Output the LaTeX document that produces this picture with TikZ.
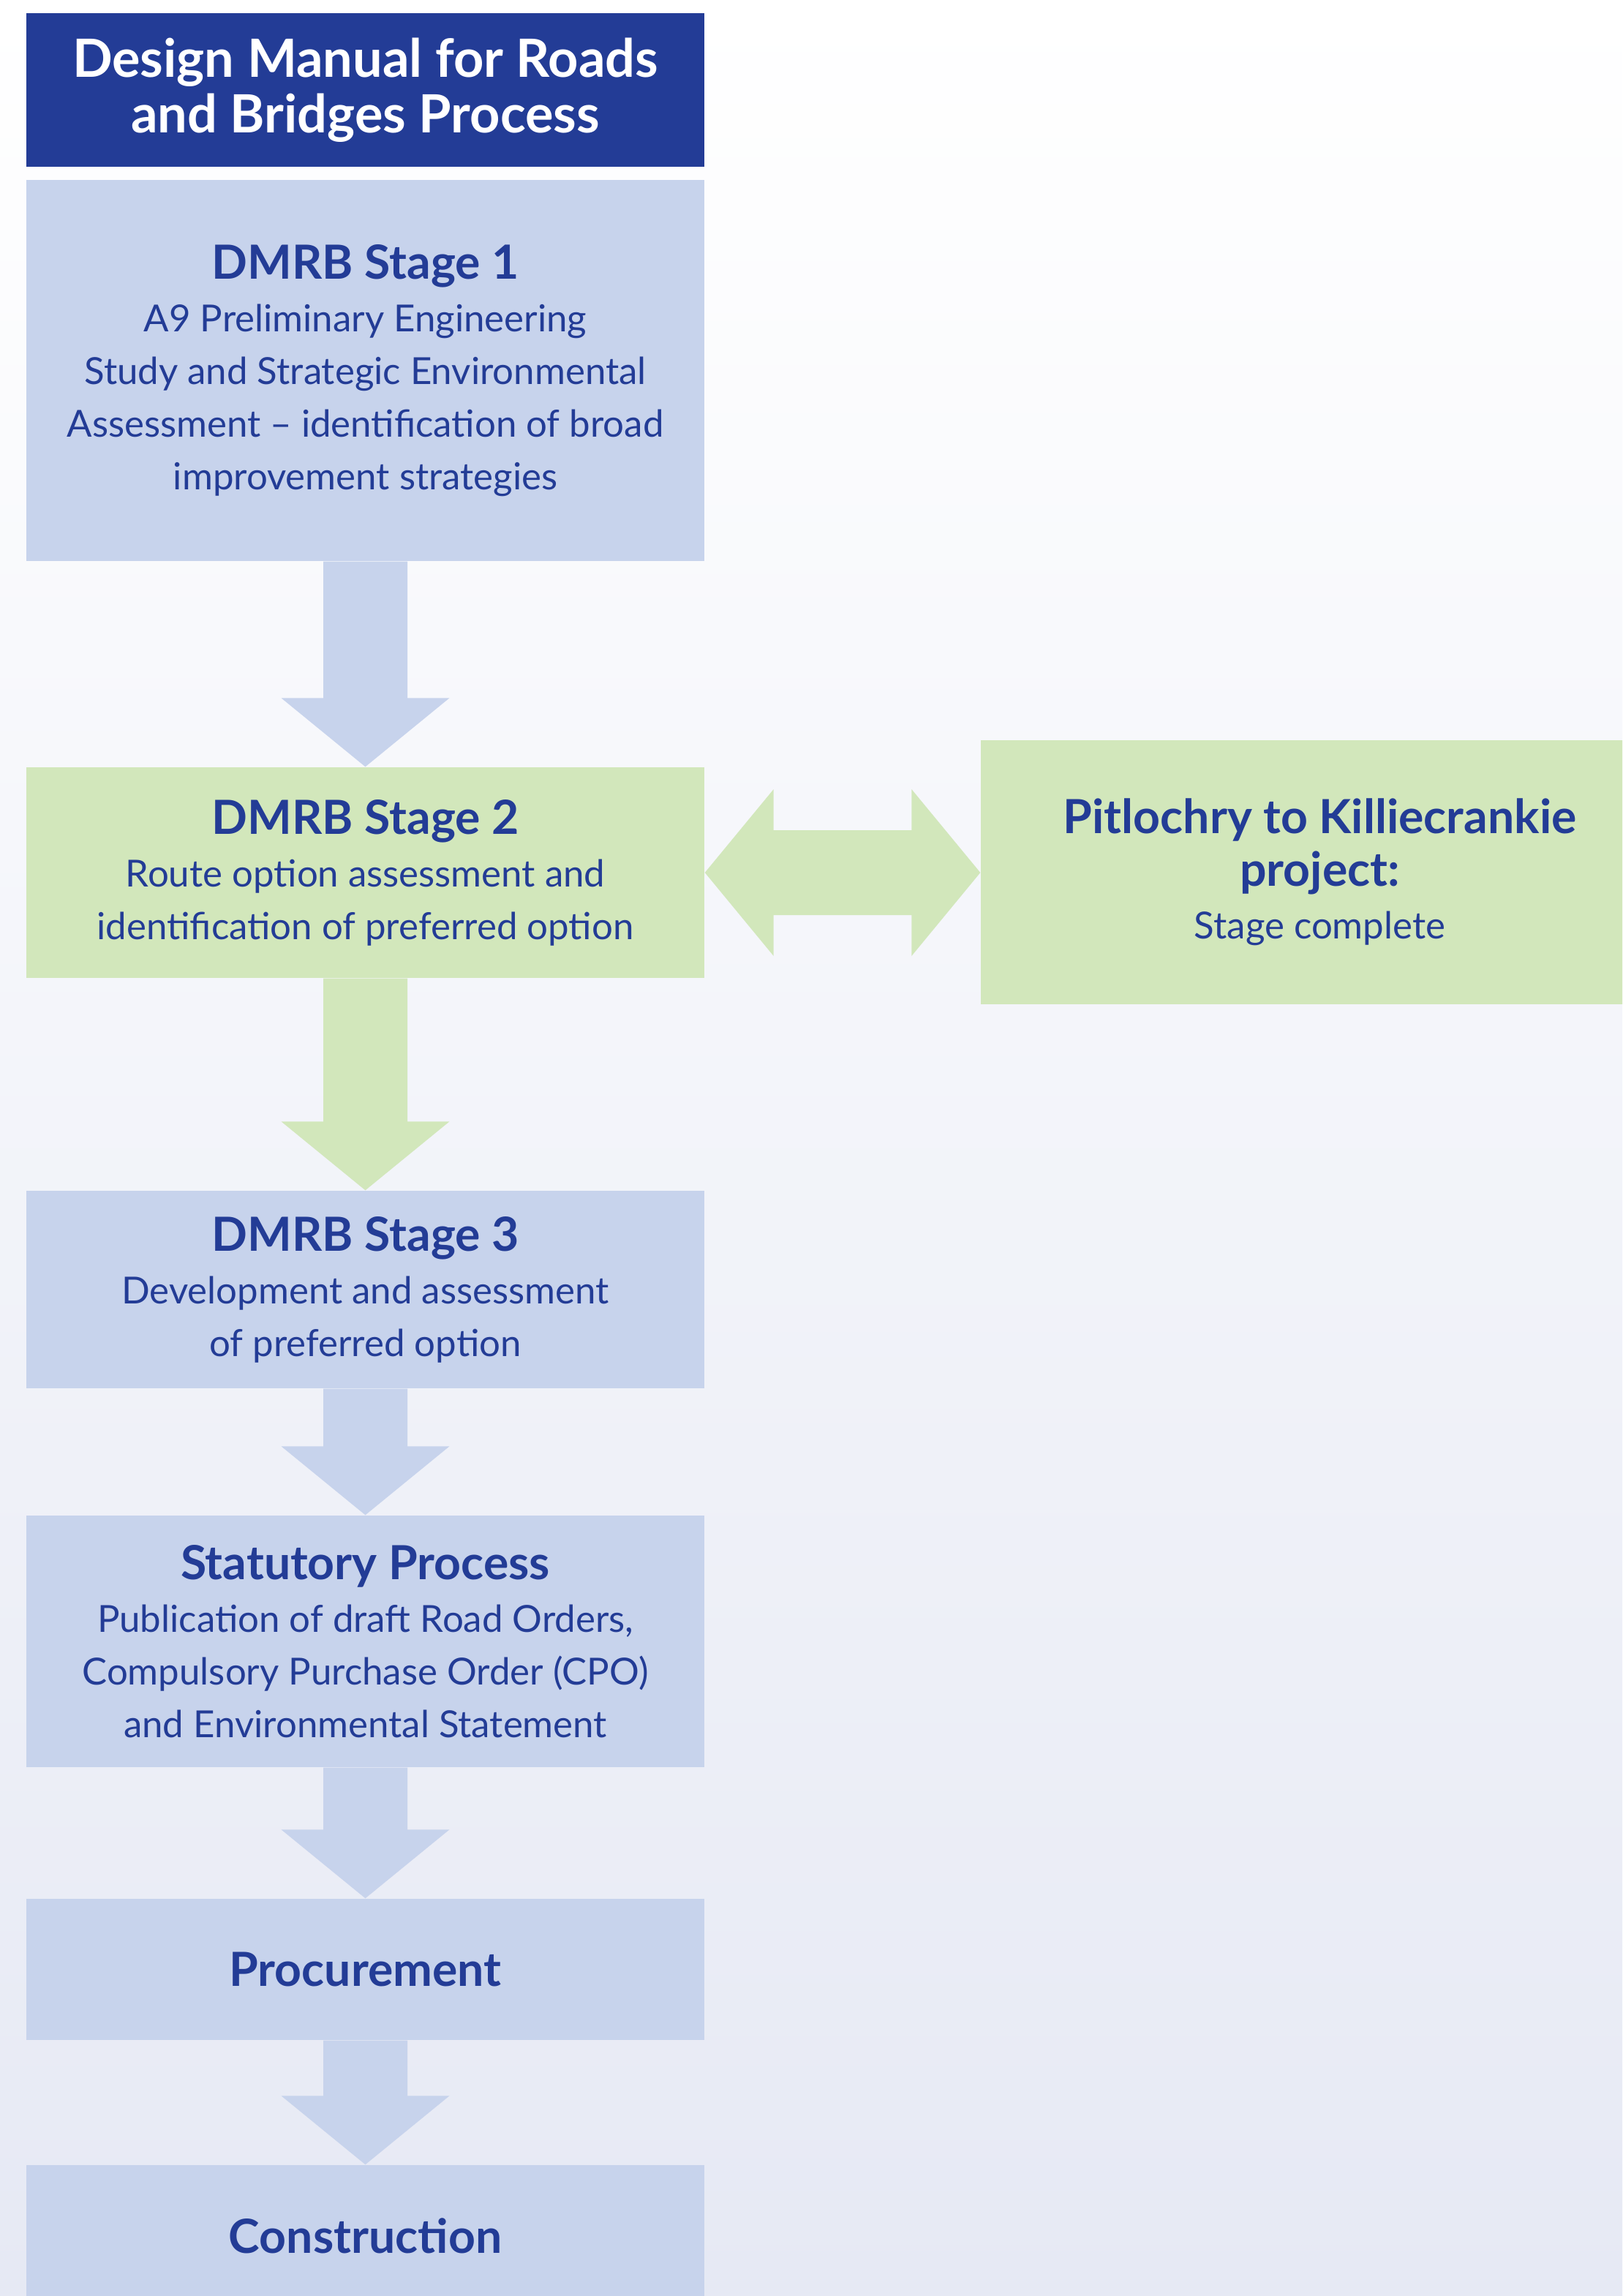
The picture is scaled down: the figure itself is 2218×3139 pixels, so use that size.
\documentclass[tikz,border=0pt]{standalone}
\usepackage{fontspec}
\setmainfont{Lato}
\usepackage{tikz}
\usetikzlibrary{calc}

\definecolor{navy}{RGB}{35,60,150}
\definecolor{paleblue}{RGB}{199,211,236}
\definecolor{palegreen}{RGB}{210,231,187}
\definecolor{bgbot}{RGB}{230,233,244}

% block arrow from the bottom of one box to the top of the next
\newcommand{\stagearrow}[3]{%
  \fill[#3] ($(#1.south)+(-57.5,0)$) -- ($(#1.south)+(57.5,0)$)
    -- ($(#2.north)+(57.5,-94)$) -- ($(#2.north)+(115,-94)$)
    -- (#2.north) -- ($(#2.north)+(-115,-94)$)
    -- ($(#2.north)+(-57.5,-94)$) -- cycle;}
\newcommand{\stagehead}{\bfseries\fontsize{18.3}{20.5}\selectfont}

\begin{document}
\begin{tikzpicture}[x=0.1mm, y=-0.1mm,
    box/.style={minimum width=92.7mm, inner sep=0pt, align=center,
      text=navy, font=\fontsize{14.5}{20.5}\selectfont},
    bluebox/.style={box, fill=paleblue},
    greenbox/.style={box, fill=palegreen},
    head/.style={font=\stagehead}]
                % Background
                \useasboundingbox (0,0) rectangle (2218,3139);
                \clip (0,0) rectangle (2218,3139);
                \shade[top color=white, bottom color=bgbot] (0,0) rectangle (2218,3139);

                % Title
                \node[box, fill=navy, text=white, minimum height=21mm,
                  font=\bfseries\fontsize{20.5}{21.5}\selectfont] (title) at (499.5,123)
                  {Design Manual for Roads\\and Bridges Process};

                % Stages
                \node[bluebox, minimum height=52.1mm] (s1) at (499.5,506.5)
                  {{\stagehead DMRB Stage 1}\\A9 Preliminary Engineering\\Study and Strategic Environmental\\Assessment -- identification of broad\\improvement strategies};
                \node[greenbox, minimum height=28.8mm] (s2) at (499.5,1193)
                  {{\stagehead DMRB Stage 2}\\Route option assessment and\\identification of preferred option};
                \node[greenbox, minimum height=36.1mm] (pk) at (1804.5,1192.5)
                  {{\stagehead Pitlochry to Killiecrankie}\\{\stagehead project:}\\Stage complete};
                \node[bluebox, minimum height=27mm] (s3) at (499.5,1763)
                  {{\stagehead DMRB Stage 3}\\Development and assessment\\of preferred option};
                \node[bluebox, minimum height=34.4mm] (sp) at (499.5,2244)
                  {{\stagehead Statutory Process}\\Publication of draft Road Orders,\\Compulsory Purchase Order (CPO)\\and Environmental Statement};
                \node[bluebox, minimum height=19.3mm, head] (pr) at (499.5,2692.5) {Procurement};
                \node[bluebox, minimum height=19.4mm, head] (co) at (499.5,3057) {Construction};

                % Arrows
                \stagearrow{s1}{s2}{paleblue}
                \stagearrow{s2}{s3}{palegreen}
                \stagearrow{s3}{sp}{paleblue}
                \stagearrow{sp}{pr}{paleblue}
                \stagearrow{pr}{co}{paleblue}

                % Two-way arrow to the project box
                \fill[palegreen] (s2.east) -- ($(s2.east)+(94,-114)$) -- ($(s2.east)+(94,-58)$)
                  -- ($(pk.west |- s2.east)+(-94,-58)$) -- ($(pk.west |- s2.east)+(-94,-114)$)
                  -- (pk.west |- s2.east) -- ($(pk.west |- s2.east)+(-94,114)$)
                  -- ($(pk.west |- s2.east)+(-94,58)$) -- ($(s2.east)+(94,58)$)
                  -- ($(s2.east)+(94,114)$) -- cycle;
            \end{tikzpicture}
\end{document}
